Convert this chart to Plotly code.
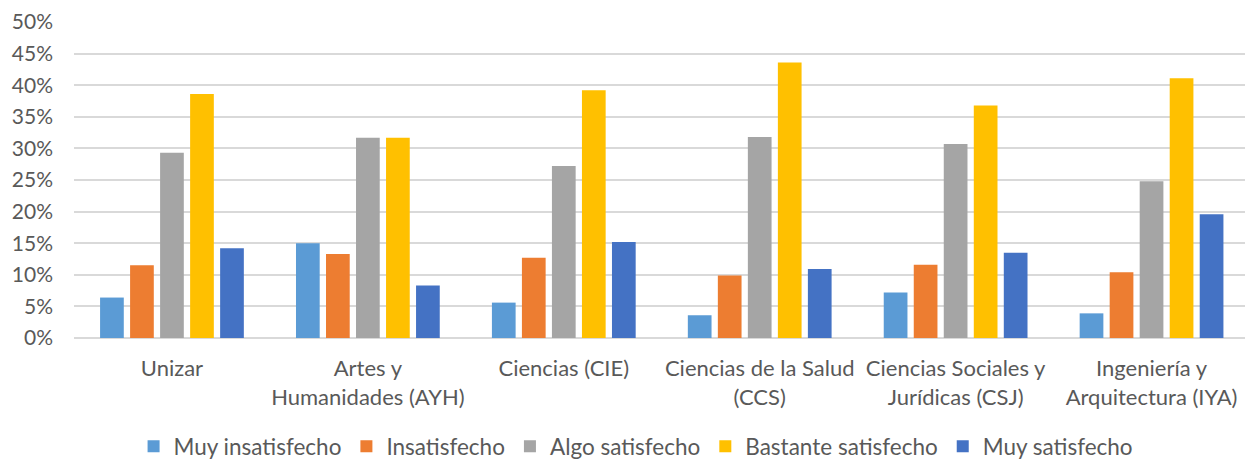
import plotly.graph_objects as go

categories = ["Unizar", "Artes y<br>Humanidades (AYH)", "Ciencias (CIE)",
              "Ciencias de la Salud<br>(CCS)", "Ciencias Sociales y<br>Jurídicas (CSJ)",
              "Ingeniería y<br>Arquitectura (IYA)"]

muy_insatisfecho = [6.4, 15.0, 5.6, 3.6, 7.2, 3.9]
insatisfecho = [11.5, 13.3, 12.7, 9.9, 11.6, 10.4]
algo_satisfecho = [29.3, 31.7, 27.2, 31.8, 30.7, 24.8]
bastante_satisfecho = [38.6, 31.7, 39.2, 43.6, 36.8, 41.1]
muy_satisfecho = [14.2, 8.3, 15.2, 10.9, 13.5, 19.6]

series_names = ["Muy insatisfecho", "Insatisfecho", "Algo satisfecho",
                "Bastante satisfecho", "Muy satisfecho"]
series_values = [muy_insatisfecho, insatisfecho, algo_satisfecho,
                 bastante_satisfecho, muy_satisfecho]
colors = ["#5B9BD5", "#ED7D31", "#A5A5A5", "#FFC000", "#4472C4"]

FONT = "Lato"
TXT = "#595959"

fig = go.Figure()
for name, vals, col in zip(series_names, series_values, colors):
    fig.add_trace(go.Bar(x=list(range(len(categories))), y=vals, name=name,
                         marker=dict(color=col, line=dict(width=0))))

fig.update_layout(
    width=1245, height=461,
    margin=dict(l=74, r=0, t=22, b=123, autoexpand=False),
    paper_bgcolor="white", plot_bgcolor="white",
    barmode="group", bargap=0.234, bargroupgap=0.21,
    font=dict(family=FONT, size=21, color=TXT),
    showlegend=True,
    legend=dict(orientation="h", x=0.48, xanchor="center",
                y=-0.344, yanchor="middle",
                font=dict(family=FONT, size=22.5, color=TXT),
                itemwidth=30, traceorder="normal"),
    xaxis=dict(tickmode="array", tickvals=list(range(len(categories))),
               ticktext=categories, range=[-0.5, 5.477],
               showgrid=False, showline=False, zeroline=False,
               ticks="", ticklabelstandoff=15, tickangle=0, automargin=False,
               tickfont=dict(family=FONT, size=22, color=TXT)),
    yaxis=dict(range=[0, 50], dtick=5, ticksuffix="%",
               showgrid=True, gridcolor="#D9D9D9", gridwidth=1.5,
               zeroline=True, zerolinecolor="#D9D9D9", zerolinewidth=1.5,
               showline=False, ticks="", ticklabelstandoff=20, automargin=False,
               tickfont=dict(family=FONT, size=21, color=TXT)),
)

fig.write_html("out.html", config={"displayModeBar": False},
               post_script="document.body.style.margin='0';")
